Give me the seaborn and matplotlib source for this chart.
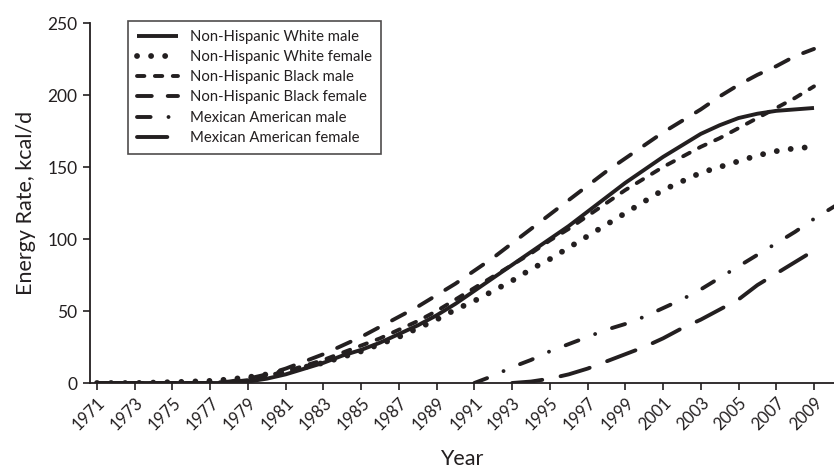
import numpy as np
import pandas as pd
import seaborn as sns
import matplotlib
matplotlib.use("Agg")
import matplotlib.pyplot as plt

# values (kcal/d)
years_nh = list(range(1971, 2010))
nhw_male = [0, 0, 0, 0, 0, 0, 0, 0, 1, 3, 6, 10, 14, 19, 23, 28, 34, 40, 47, 55,
            64, 73, 82, 91, 100, 109, 119, 129, 139, 148, 157, 165, 173, 179, 184,
            187, 189, 190, 191]
nhw_female = [0, 0, 0, 0.3, 0.6, 1, 1.5, 2.5, 4, 6, 8, 11, 14, 18, 22, 27, 32, 38,
              44, 51, 57, 64, 71, 79, 86, 94, 102, 110, 118, 126, 134, 140, 146,
              150, 154, 158, 161, 163, 164]
nhb_male = [0, 0, 0, 0, 0, 0, 0, 0.5, 2, 5, 8, 12, 16, 21, 26, 31, 37, 43, 50, 58,
            66, 74, 82, 90, 99, 107, 116, 125, 134, 142, 150, 157, 164, 170, 177,
            184, 191, 198, 206]
nhb_female = [0, 0, 0, 0, 0, 0, 0, 1, 3, 6, 10, 15, 20, 26, 32, 39, 46, 53, 61, 69,
              78, 87, 97, 107, 117, 127, 137, 147, 156, 165, 174, 182, 190, 199,
              207, 214, 220, 227, 232]
years_mam = list(range(1991, 2012))
ma_male = [0, 5, 11, 16, 22, 27, 32, 37, 41, 46, 52, 58, 65, 73, 81, 89, 97, 105,
           114, 122, 130]
years_maf = list(range(1993, 2010))
ma_female = [0, 1, 3, 6, 10, 15, 20, 25, 31, 38, 44, 51, 58, 68, 76, 84, 92]

labels = ["Non-Hispanic White male", "Non-Hispanic White female",
          "Non-Hispanic Black male", "Non-Hispanic Black female",
          "Mexican American male", "Mexican American female"]
xticks = list(range(1971, 2010, 2))
yticks = [0, 50, 100, 150, 200, 250]

ink = "#231f20"
sns.set_style("ticks")
plt.rcParams["font.family"] = ["Lato", "DejaVu Sans"]

fig = plt.figure(figsize=(8.34, 4.71), dpi=100)
ax = fig.add_axes([90 / 834, 1 - 383 / 471, 1 - 90 / 834, 360 / 471])

series = [
    (years_nh, nhw_male, dict(lw=2.8, linestyle="-")),
    (years_nh, nhw_female, dict(lw=4.2, linestyle=(0, (0.01, 2.4)))),
    (years_nh, nhb_male, dict(lw=2.8, linestyle=(0, (1.9, 2.7)))),
    (years_nh, nhb_female, dict(lw=2.8, linestyle=(0, (3.8, 4.1)))),
    (years_mam, ma_male, dict(lw=2.8, linestyle=(0, (3.5, 4.6, 0.01, 4.6)))),
    (years_maf, ma_female, dict(lw=2.8, linestyle=(0, (7.8, 4.8)))),
]
for (x, y, style), name in zip(series, labels):
    df = pd.DataFrame({"Year": x, "rate": y})
    sns.lineplot(data=df, x="Year", y="rate", ax=ax, color=ink, label=name,
                 dash_capstyle="round", solid_capstyle="butt", **style)

ax.set_xlim(1970.63, 2010.06)
ax.set_ylim(0, 250)
ax.set_xticks(xticks)
ax.set_xticklabels([str(t) for t in xticks], rotation=45, ha="right",
                   rotation_mode="anchor", fontsize=12)
ax.set_yticks(yticks)
ax.tick_params(axis="y", labelsize=12.5, length=5, width=1.2, color=ink,
               labelcolor=ink, pad=4)
ax.tick_params(axis="x", length=5, width=1.2, color=ink, labelcolor=ink, pad=3)
for s in ["top", "right"]:
    ax.spines[s].set_visible(False)
for s in ["left", "bottom"]:
    ax.spines[s].set_color(ink)
    ax.spines[s].set_linewidth(1.3)

ax.set_xlabel("Year", fontsize=15.5, color=ink, labelpad=12)
ax.set_ylabel("Energy Rate, kcal/d", fontsize=15.5, color=ink, labelpad=8)

leg = ax.legend(loc="upper left", bbox_to_anchor=(0.051, 1.006), borderaxespad=0,
                frameon=True, fancybox=False, fontsize=10.7, handlelength=2.8,
                handletextpad=0.8, labelspacing=0.42, borderpad=0.6)
leg.get_frame().set_edgecolor(ink)
leg.get_frame().set_linewidth(1.2)
for t in leg.get_texts():
    t.set_color(ink)

fig.savefig("out.png", dpi=100)
